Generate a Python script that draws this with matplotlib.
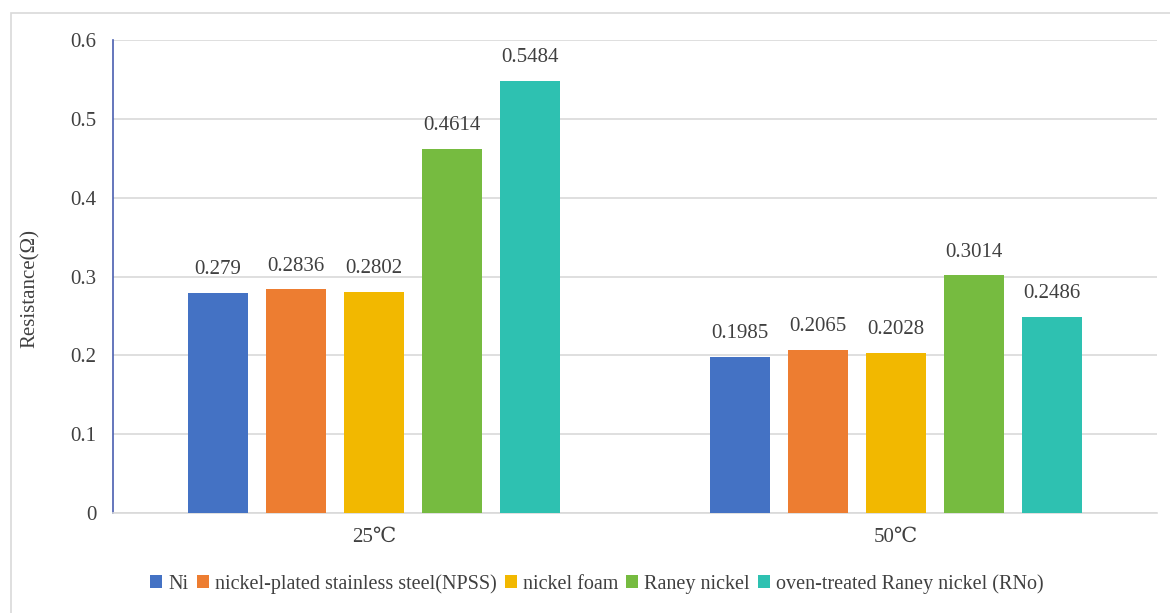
import matplotlib
matplotlib.use("Agg")
import matplotlib.pyplot as plt
from matplotlib.patches import Rectangle
import numpy as np

plt.rcParams['font.family'] = ['Liberation Serif', 'DejaVu Serif']

categories = ["25℃", "50℃"]
series_names = ["Ni", "nickel-plated stainless steel(NPSS)", "nickel foam",
                "Raney nickel", "oven-treated Raney nickel (RNo)"]
values = {
    "Ni": [0.279, 0.1985],
    "nickel-plated stainless steel(NPSS)": [0.2836, 0.2065],
    "nickel foam": [0.2802, 0.2028],
    "Raney nickel": [0.4614, 0.3014],
    "oven-treated Raney nickel (RNo)": [0.5484, 0.2486],
}
value_labels = {
    "Ni": ["0.279", "0.1985"],
    "nickel-plated stainless steel(NPSS)": ["0.2836", "0.2065"],
    "nickel foam": ["0.2802", "0.2028"],
    "Raney nickel": ["0.4614", "0.3014"],
    "oven-treated Raney nickel (RNo)": ["0.5484", "0.2486"],
}
colors = ["#4472C4", "#ED7D31", "#F2B800", "#76BB40", "#2EC1B1"]
yticks = [0, 0.1, 0.2, 0.3, 0.4, 0.5, 0.6]
ytick_labels = ["0", "0.1", "0.2", "0.3", "0.4", "0.5", "0.6"]

W, H = 1170, 613
fig = plt.figure(figsize=(W / 100, H / 100), dpi=100)

# outer chart frame
fig.patches.append(Rectangle((11 / W, -0.01), 1.02, 1 - 13 / H + 0.01,
                             transform=fig.transFigure, fill=False,
                             edgecolor="#D9D9D9", linewidth=1.2))

ax = fig.add_axes([113 / W, 1 - 513 / H, (1157 - 113) / W, (513 - 40) / H])

x = np.arange(len(categories))
bar_w = 0.115
step = 0.1494
text_color = "#404040"
for i, (name, c) in enumerate(zip(series_names, colors)):
    pos = x + (i - 2) * step
    bars = ax.bar(pos, values[name], width=bar_w, color=c, label=name, zorder=3)
    for b, lab in zip(bars, value_labels[name]):
        ax.annotate(lab, (b.get_x() + b.get_width() / 2, b.get_height()),
                    xytext=(0, 10), textcoords="offset points",
                    ha="center", va="bottom", fontsize=15, color=text_color)

ax.set_xlim(-0.5, 1.5)
ax.set_ylim(0, 0.6)
ax.set_yticks(yticks)
ax.set_yticklabels(ytick_labels)
ax.set_xticks(x)
ax.set_xticklabels(categories)
ax.tick_params(axis="both", length=0, labelsize=15, colors=text_color)
ax.tick_params(axis="y", pad=12)
ax.tick_params(axis="x", pad=11)
ax.yaxis.grid(True, color="#D9D9D9", linewidth=1.2, zorder=0)
for s in ["top", "right"]:
    ax.spines[s].set_visible(False)
ax.spines["bottom"].set_color("#D9D9D9")
ax.spines["bottom"].set_linewidth(1.2)
ax.spines["left"].set_color("#4A5FB0")
ax.spines["left"].set_linewidth(1.2)

fig.text(30 / W, 1 - 289 / H, "Resistance(Ω)", rotation=90, ha="center",
         va="center", fontsize=15, color=text_color)

fig.legend(loc="center", bbox_to_anchor=(597 / W, 1 - 584 / H), ncol=5,
           frameon=False, fontsize=14.5, handlelength=0.6, handleheight=0.6,
           handletextpad=0.3, columnspacing=0.4, labelcolor=text_color)

fig.savefig("out.png", dpi=100, facecolor="white")
